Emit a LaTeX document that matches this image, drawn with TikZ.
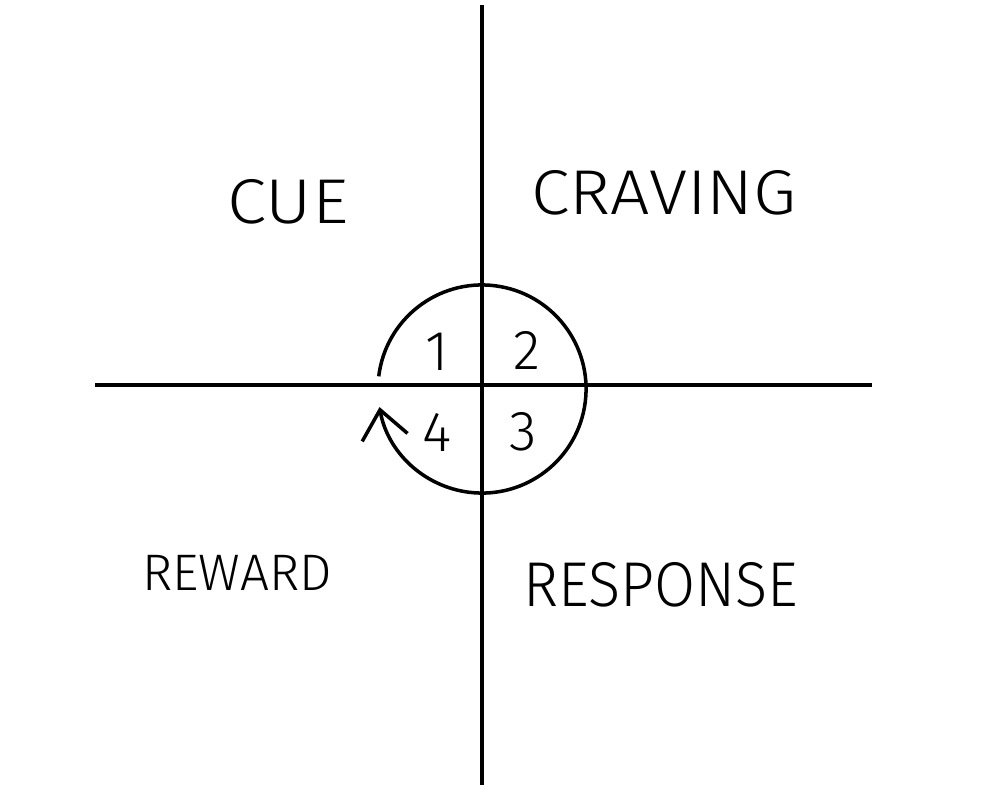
\documentclass[tikz,border=0pt]{standalone}
\usepackage{fontspec}
\setmainfont{Fira Sans}[UprightFont=* Light]
\usetikzlibrary{arrows.meta}
\begin{document}
\begin{tikzpicture}[x=0.01cm,y=-0.01cm,
  ink/.style={line width=1.0pt,black},
  big/.style={font=\fontsize{18}{20}\selectfont},
  mid/.style={font=\fontsize{14.6}{17}\selectfont},
  num/.style={font=\fontsize{16}{18}\selectfont}]
\useasboundingbox (0,0) rectangle (1000,800);
\coordinate (vt) at (482,5);
\coordinate (vb) at (482,785);
\coordinate (hl) at (95,385);
\coordinate (hr) at (872,385);
\coordinate (c) at (482,389);
\draw[ink] (vt) -- (vb);
\draw[ink] (hl) -- (hr);
\draw[ink,-{Straight Barb[length=2.8mm,width=4.6mm]}] (c) ++(173:1.04cm) arc[start angle=173,end angle=-170,radius=1.04cm];
\node[big,xscale=1.12] (cue) at (288,202) {CUE};
\node[big,xscale=1.1] (craving) at (664,193) {CRAVING};
\node[mid,xscale=1.0] (reward) at (237,573) {REWARD};
\node[big,xscale=0.94] (response) at (661,585) {RESPONSE};
\node[num] (n1) at (437,352) {1};
\node[num] (n2) at (527,350) {2};
\node[num] (n4) at (437,432) {4};
\node[num] (n3) at (523,432) {3};
\end{tikzpicture}
\end{document}
